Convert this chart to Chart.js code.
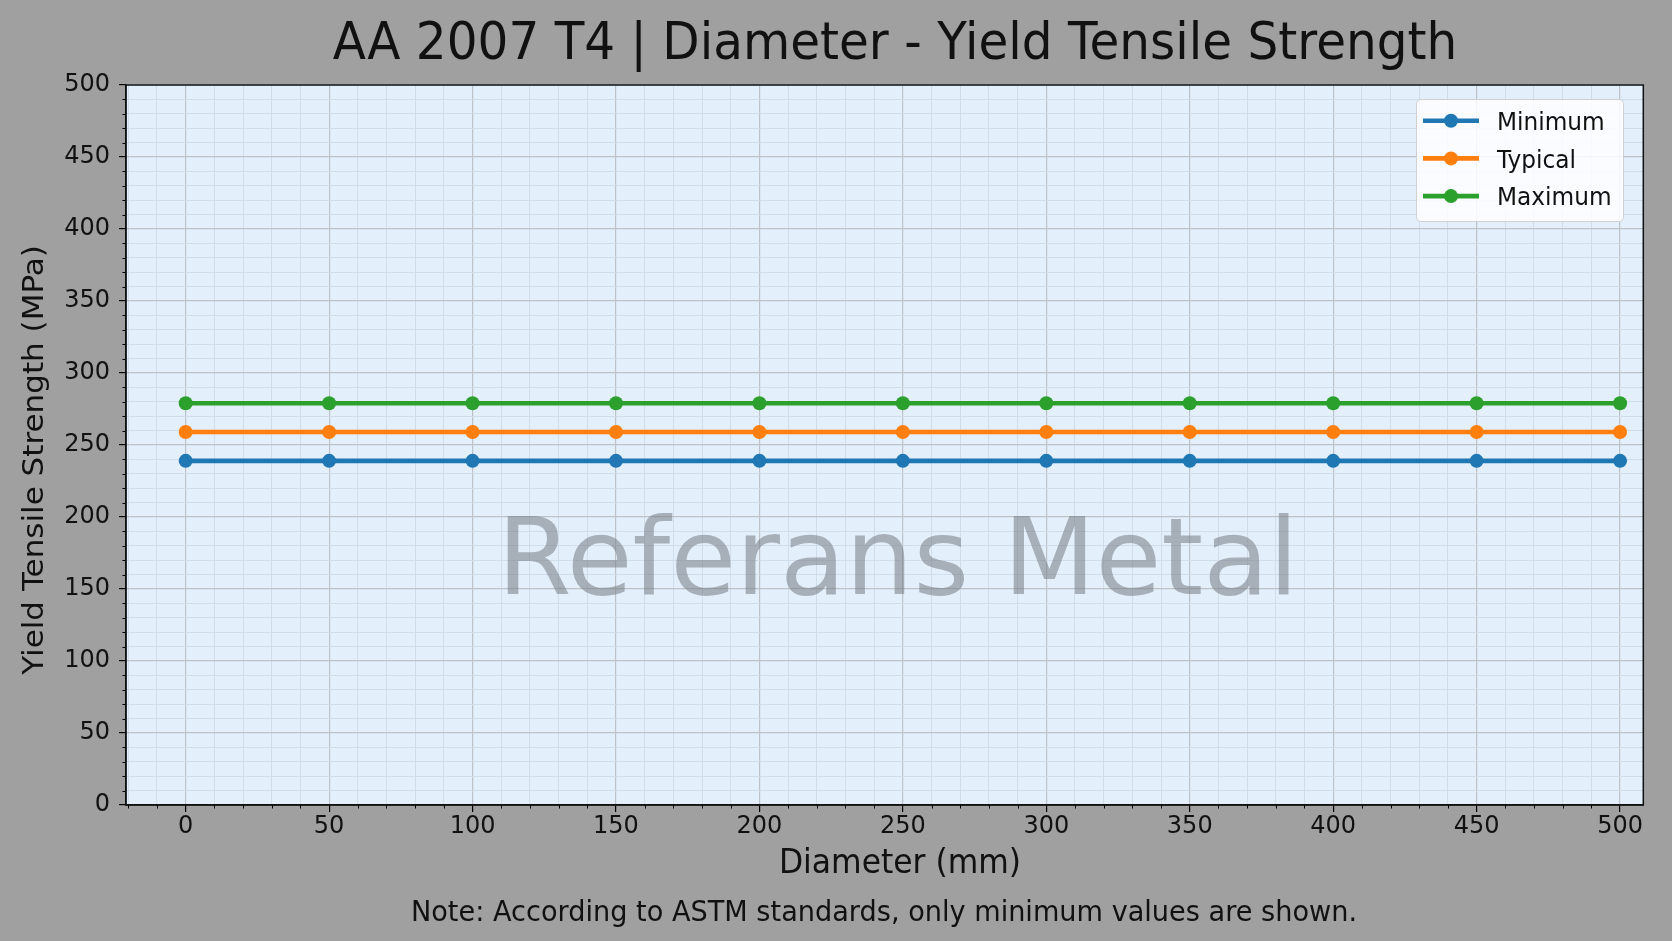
<!DOCTYPE html>
<html>
<head>
<meta charset="utf-8">
<style>
  html, body { margin: 0; padding: 0; background: #a0a0a0; }
  canvas { display: block; }
</style>
<script src="https://cdn.jsdelivr.net/npm/chart.js@4.4.1/dist/chart.umd.min.js"></script>
</head>
<body>
<canvas id="c" width="1672" height="941"></canvas>
<script>
// ---- Data ----
const diameters = [0, 50, 100, 150, 200, 250, 300, 350, 400, 450, 500];
const minimumValues = [239, 239, 239, 239, 239, 239, 239, 239, 239, 239, 239];
const typicalValues = [259, 259, 259, 259, 259, 259, 259, 259, 259, 259, 259];
const maximumValues = [279, 279, 279, 279, 279, 279, 279, 279, 279, 279, 279];
const seriesNames = ['Minimum', 'Typical', 'Maximum'];
const xMajorTicks = [0, 50, 100, 150, 200, 250, 300, 350, 400, 450, 500];
const yMajorTicks = [0, 50, 100, 150, 200, 250, 300, 350, 400, 450, 500];
const titleText = 'AA 2007 T4 | Diameter - Yield Tensile Strength';
const xTitleText = 'Diameter (mm)';
const yTitleText = 'Yield Tensile Strength (MPa)';
const noteText = 'Note: According to ASTM standards, only minimum values are shown.';
const watermarkText = 'Referans Metal';

const FONT = '"DejaVu Sans", "Liberation Sans", sans-serif';
const colors = ['#1f77b4', '#ff7f0e', '#2ca02c'];
const seriesValues = [minimumValues, typicalValues, maximumValues];

const datasets = seriesNames.map((name, i) => ({
  label: name,
  data: diameters.map((d, j) => ({ x: d, y: seriesValues[i][j] })),
  borderColor: colors[i],
  backgroundColor: colors[i],
  pointBackgroundColor: colors[i],
  pointBorderWidth: 0,
  pointRadius: 7,
  pointHoverRadius: 7,
  borderWidth: 4.6,
  tension: 0,
  fill: false
}));

function minorTicksBuilder(step) {
  return function (scale) {
    const ticks = [];
    const start = Math.ceil(scale.min / step);
    const end = Math.floor(scale.max / step);
    for (let i = start; i <= end; i++) ticks.push({ value: i * step });
    scale.ticks = ticks;
  };
}

const isMajor = (v, list) => list.includes(v);

function squashText(ctx, text, x, y, sx) {
  ctx.save();
  ctx.translate(x, y);
  ctx.scale(sx, 1);
  ctx.fillText(text, 0, 0);
  ctx.restore();
}

const decorPlugin = {
  id: 'decor',
  beforeDraw(chart) {
    const { ctx, chartArea: a } = chart;
    ctx.save();
    ctx.fillStyle = '#a0a0a0';
    ctx.fillRect(0, 0, chart.width, chart.height);
    ctx.fillStyle = '#e3effb';
    ctx.fillRect(a.left, a.top, a.right - a.left, a.bottom - a.top);
    ctx.restore();
  },
  beforeDatasetsDraw(chart) {
    const { ctx, chartArea: a, scales } = chart;
    ctx.save();
    ctx.font = '107px ' + FONT;
    ctx.fillStyle = 'rgba(118,124,132,0.55)';
    ctx.textAlign = 'center';
    ctx.textBaseline = 'alphabetic';
    ctx.fillText(watermarkText, scales.x.getPixelForValue(250) - 5, a.top + 509);
    ctx.restore();
  },
  afterDraw(chart) {
    const { ctx, chartArea: a, scales } = chart;
    ctx.save();
    // minor tick marks
    ctx.strokeStyle = '#000';
    ctx.lineWidth = 1;
    scales.x.ticks.forEach(t => {
      if (!isMajor(t.value, xMajorTicks)) {
        const px = Math.round(scales.x.getPixelForValue(t.value)) + 0.5;
        ctx.beginPath(); ctx.moveTo(px, a.bottom); ctx.lineTo(px, a.bottom + 3.5); ctx.stroke();
      }
    });
    scales.y.ticks.forEach(t => {
      if (!isMajor(t.value, yMajorTicks)) {
        const py = Math.round(scales.y.getPixelForValue(t.value)) + 0.5;
        ctx.beginPath(); ctx.moveTo(a.left, py); ctx.lineTo(a.left - 3.5, py); ctx.stroke();
      }
    });
    // frame
    ctx.strokeStyle = '#111';
    ctx.lineWidth = 1.5;
    ctx.strokeRect(a.left, a.top, a.right - a.left, a.bottom - a.top);

    // legend
    const lx = 1416, ly = 99, lw = 207, lh = 122;
    ctx.fillStyle = 'rgba(255,255,255,0.82)';
    ctx.strokeStyle = 'rgba(204,204,204,0.9)';
    ctx.lineWidth = 1;
    ctx.beginPath();
    ctx.roundRect(lx + 0.5, ly + 0.5, lw, lh, 4);
    ctx.fill(); ctx.stroke();
    ctx.font = '25px ' + FONT;
    ctx.textAlign = 'left';
    ctx.textBaseline = 'alphabetic';
    chart.data.datasets.forEach((ds, i) => {
      const ry = 120.7 + i * 37.7;
      ctx.strokeStyle = ds.borderColor;
      ctx.lineWidth = 4.6;
      ctx.beginPath(); ctx.moveTo(1423, ry); ctx.lineTo(1479, ry); ctx.stroke();
      ctx.fillStyle = ds.borderColor;
      ctx.beginPath(); ctx.arc(1451, ry, 7, 0, Math.PI * 2); ctx.fill();
      ctx.fillStyle = '#111';
      squashText(ctx, ds.label, 1497, ry + 9.2, 0.93);
    });

    ctx.fillStyle = '#111';
    ctx.textAlign = 'center';
    ctx.textBaseline = 'alphabetic';
    // title
    ctx.font = '51px ' + FONT;
    squashText(ctx, titleText, 895, 58.5, 0.951);
    // x-axis title
    ctx.font = '33px ' + FONT;
    squashText(ctx, xTitleText, 900, 873, 0.951);
    // note
    ctx.font = '29px ' + FONT;
    squashText(ctx, noteText, 884, 921, 0.936);
    // y-axis title
    ctx.font = '31px ' + FONT;
    ctx.save();
    ctx.translate(43, 460);
    ctx.rotate(-Math.PI / 2);
    ctx.scale(1, 0.93);
    ctx.fillText(yTitleText, 0, 0);
    ctx.restore();
    ctx.restore();
  }
};

new Chart(document.getElementById('c'), {
  type: 'line',
  data: { datasets },
  plugins: [decorPlugin],
  options: {
    responsive: false,
    animation: false,
    devicePixelRatio: 1,
    layout: { padding: { left: 0, right: 28.7, top: 85, bottom: 0 } },
    plugins: {
      legend: { display: false },
      title: { display: false },
      tooltip: { enabled: false }
    },
    scales: {
      x: {
        type: 'linear',
        min: -20.8,
        max: 508.1,
        afterBuildTicks: minorTicksBuilder(10),
        afterFit(scale) { scale.height = 136; },
        ticks: {
          autoSkip: false,
          maxRotation: 0,
          padding: 0,
          color: '#111',
          font: { family: FONT, size: 24 },
          callback: v => isMajor(v, xMajorTicks) ? String(v) : ''
        },
        grid: {
          color: c => isMajor(c.tick.value, xMajorTicks) ? 'rgba(188,194,200,1)' : 'rgba(205,218,232,0.9)',
          lineWidth: c => isMajor(c.tick.value, xMajorTicks) ? 1.2 : 1,
          tickColor: c => isMajor(c.tick.value, xMajorTicks) ? '#000' : 'rgba(0,0,0,0)',
          tickLength: 7
        },
        border: { display: true, color: '#111', width: 1.5 },
        title: { display: false, text: xTitleText }
      },
      y: {
        type: 'linear',
        min: 0,
        max: 500,
        afterBuildTicks: minorTicksBuilder(10),
        afterFit(scale) { scale.width = 126; },
        ticks: {
          autoSkip: false,
          padding: 9,
          color: '#111',
          font: { family: FONT, size: 24 },
          callback: v => isMajor(v, yMajorTicks) ? String(v) : ''
        },
        grid: {
          color: c => isMajor(c.tick.value, yMajorTicks) ? 'rgba(188,194,200,1)' : 'rgba(205,218,232,0.9)',
          lineWidth: c => isMajor(c.tick.value, yMajorTicks) ? 1.2 : 1,
          tickColor: c => isMajor(c.tick.value, yMajorTicks) ? '#000' : 'rgba(0,0,0,0)',
          tickLength: 7
        },
        border: { display: true, color: '#111', width: 1.5 },
        title: { display: false, text: yTitleText }
      }
    }
  }
});
</script>
</body>
</html>
